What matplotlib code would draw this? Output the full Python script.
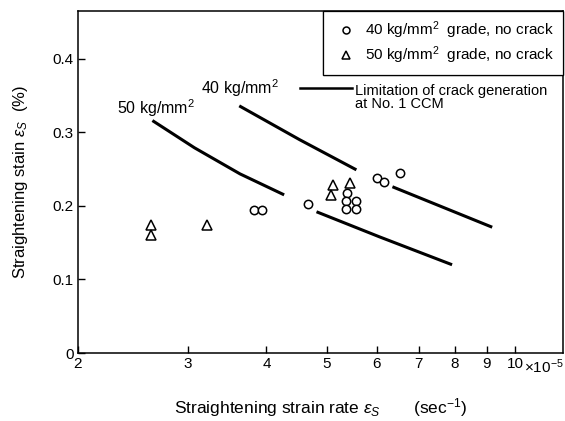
import matplotlib.pyplot as plt
from matplotlib.lines import Line2D

plt.rcParams['font.family'] = ['Liberation Sans', 'DejaVu Sans']
plt.rcParams['mathtext.fontset'] = 'custom'
plt.rcParams['mathtext.rm'] = 'Liberation Sans'
plt.rcParams['mathtext.it'] = 'Liberation Sans:italic'

# 40 kg/mm2 grade, no crack (circles)
c40_x = [3.82, 3.93, 4.67, 5.39, 5.37, 5.57, 5.37, 5.57, 6.00, 6.17, 6.53]
c40_y = [0.195, 0.195, 0.203, 0.218, 0.207, 0.207, 0.196, 0.196, 0.238, 0.233, 0.245]

# 50 kg/mm2 grade, no crack (triangles)
t50_x = [2.62, 2.62, 3.21, 5.12, 5.08, 5.45]
t50_y = [0.174, 0.161, 0.174, 0.229, 0.215, 0.231]

# limitation curves, each drawn in two pieces (gap where the points sit)
lim50_x = [[2.63, 3.07, 3.63, 4.27], [4.81, 6.06, 7.92]]
lim50_y = [[0.316, 0.279, 0.2435, 0.215], [0.192, 0.158, 0.120]]
lim40_x = [[3.62, 4.52, 5.57], [6.36, 9.18]]
lim40_y = [[0.336, 0.290, 0.249], [0.226, 0.171]]

xticks = [2, 3, 4, 5, 6, 7, 8, 9, 10]
xticklabels = ['2', '3', '4', '5', '6', '7', '8', '9', '10']
yticks = [0, 0.1, 0.2, 0.3, 0.4]
yticklabels = ['0', '0.1', '0.2', '0.3', '0.4']

fig = plt.figure(figsize=(5.65, 4.21), dpi=100)
ax = fig.add_axes([0.138, 0.1615, 0.858, 0.8125])

for xs, ys in zip(lim50_x + lim40_x, lim50_y + lim40_y):
    ax.plot(xs, ys, color='black', lw=2.2, solid_capstyle='butt', solid_joinstyle='round')

ax.plot(c40_x, c40_y, 'o', ms=6, mfc='white', mec='black', mew=1.1, ls='none')
ax.plot(t50_x, t50_y, '^', ms=6.5, mfc='white', mec='black', mew=1.1, ls='none')

ax.set_xscale('log')
ax.set_xlim(2, 11.9)
ax.set_ylim(0, 0.465)
ax.set_xticks(xticks)
ax.set_xticklabels(xticklabels)
ax.minorticks_off()
ax.set_yticks(yticks)
ax.set_yticklabels(yticklabels)
ax.tick_params(direction='in', length=5, width=1, labelsize=11, pad=3)
ax.tick_params(axis='y', pad=3)
for s in ax.spines.values():
    s.set_linewidth(1.1)

# exponent part of the last tick label
ax.annotate('×10$^{-5}$', xy=(10, 0), xycoords=('data', 'axes fraction'),
            xytext=(6, -3), textcoords='offset points', ha='left', va='top', fontsize=11)

ax.text(2.31, 0.333, '50 kg/mm$^2$', fontsize=11.5, va='center')
ax.text(3.14, 0.360, '40 kg/mm$^2$', fontsize=11.5, va='center')

ax.set_xlabel(r'Straightening strain rate $\varepsilon_S$       (sec$^{-1}$)', fontsize=12.5, labelpad=18)
ax.set_ylabel(r'Straightening stain $\varepsilon_S$  (%)', fontsize=12, labelpad=16)

handles = [Line2D([], [], marker='o', ls='none', ms=5, mfc='white', mec='black', mew=1.1),
           Line2D([], [], marker='^', ls='none', ms=5.5, mfc='white', mec='black', mew=1.1)]
labels = ['40 kg/mm$^2$  grade, no crack', '50 kg/mm$^2$  grade, no crack']
leg = ax.legend(handles, labels, loc='upper right', borderaxespad=0, fancybox=False,
                edgecolor='black', framealpha=1, fontsize=11, handlelength=1.9,
                handletextpad=0.3, borderpad=0.55, labelspacing=0.25)
leg.get_frame().set_linewidth(0.9)
ax.add_artist(leg)

# key for the limitation curves, outside the box
ax.plot([0.458, 0.565], [0.775, 0.775], color='black', lw=1.8, transform=ax.transAxes, clip_on=False)
ax.text(0.571, 0.785, 'Limitation of crack generation\nat No. 1 CCM', fontsize=10.5,
        va='top', ha='left', linespacing=0.9, transform=ax.transAxes)

plt.savefig('out.png', dpi=100)
